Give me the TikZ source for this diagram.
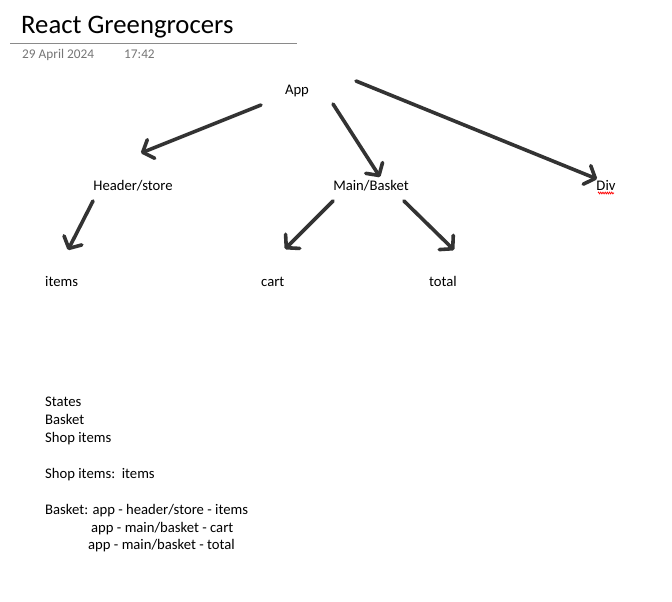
\documentclass[tikz,border=0pt]{standalone}
\usepackage{fontspec}
\setmainfont{Carlito}
\usetikzlibrary{arrows.meta,decorations.pathmorphing}
\definecolor{arrowgray}{HTML}{333333}
\definecolor{dategray}{HTML}{767676}
\definecolor{rulegray}{HTML}{8A8A8A}
\begin{document}
\begin{tikzpicture}[x=1pt,y=-1pt,
  lbl/.style={inner sep=0pt,anchor=base,font=\fontsize{14.67}{17.6}\selectfont,text=black},
  lftlbl/.style={lbl,anchor=base west},
  conn/.style={draw=arrowgray,line width=3.6pt,line cap=round,
    -{Straight Barb[length=9pt,width=20pt,line width=3.6pt,round]}},
  datetext/.style={inner sep=0pt,anchor=base west,font=\fontsize{13.3}{16}\selectfont,text=dategray}]
\useasboundingbox[fill=white] (0,0) rectangle (672,602);
% title
\node[inner sep=0pt,anchor=base west,font=\fontsize{26.7}{30}\selectfont] (title) at (21,34) {React Greengrocers};
\draw[rulegray,line width=1pt] (10,44) -- (297,44);
\node[datetext] (date) at (22,59) {29 April 2024};
\node[datetext] (time) at (124,59) {17:42};
% tree nodes
\node[lbl] (app) at (297,94) {App};
\node[lbl] (header) at (133,190) {Header/store};
\node[lbl] (main) at (371,190) {Main/Basket};
\node[lbl] (div) at (606,190) {Div};
\node[lftlbl] (items) at (45,286) {items};
\node[lftlbl] (cart) at (261,286) {cart};
\node[lftlbl] (total) at (429,286) {total};
% spell-check squiggle
\draw[red,line width=0.7pt,decorate,decoration={zigzag,amplitude=0.9pt,segment length=2.2pt}]
  ([shift={(-8,3)}]div.base) -- ([shift={(8,3)}]div.base);
% connectors
\draw[conn] ([shift={(-36,11)}]app.base) -- ([shift={(8,-37)}]header.base);
\draw[conn] ([shift={(36,10)}]app.base) -- ([shift={(9,-13)}]main.base);
\draw[conn] ([shift={(59,-13)}]app.base) -- ([shift={(-9,-11)}]div.base);
\draw[conn] ([shift={(-40,11)}]header.base) -- ([shift={(23,-36)}]items.base west);
\draw[conn] ([shift={(-38,11)}]main.base) -- ([shift={(24,-37)}]cart.base west);
\draw[conn] ([shift={(33,11)}]main.base) -- ([shift={(25,-36)}]total.base west);
% notes
\node[lftlbl] (n1) at (45,406) {States};
\node[lftlbl] (n2) at (45,424) {Basket};
\node[lftlbl] (n3) at (45,442) {Shop items};
\node[lftlbl] (n4) at (45,478) {Shop items:\ \ items};
\node[lftlbl] (n5) at (45,514) {Basket: app - header/store - items};
\node[lftlbl] (n6) at (91,532) {app - main/basket - cart};
\node[lftlbl] (n7) at (88,549) {app - main/basket - total};
\end{tikzpicture}
\end{document}
